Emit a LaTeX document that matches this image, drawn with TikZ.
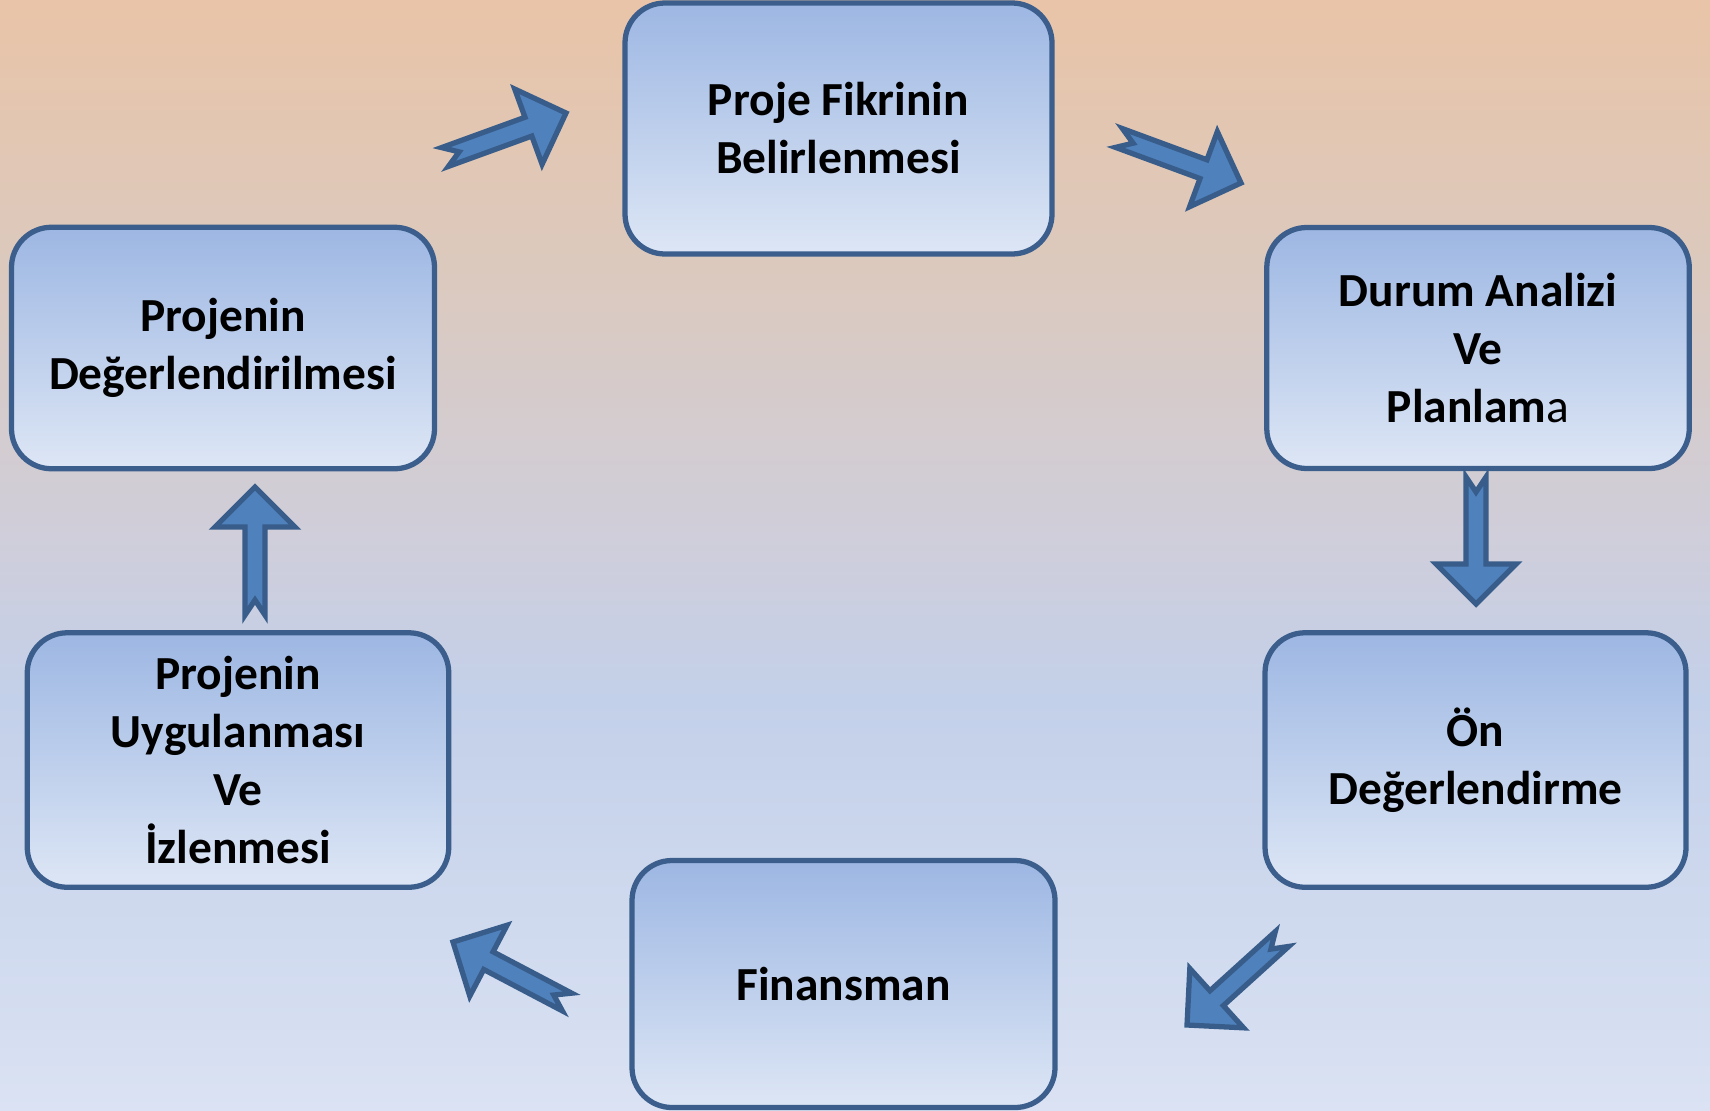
\documentclass[tikz,border=0pt]{standalone}
\usepackage{fontspec}
\setmainfont{Carlito}
\usetikzlibrary{calc}

\definecolor{bgtop}{HTML}{E9C4A8}
\definecolor{bgwarm}{HTML}{DCC9BD}
\definecolor{bgmid}{HTML}{CECEDC}
\definecolor{bgblue}{HTML}{C3D0E9}
\definecolor{bgbot}{HTML}{DAE2F3}
\definecolor{boxtop}{HTML}{9DB7E3}
\definecolor{boxbot}{HTML}{DDE6F5}
\definecolor{boxline}{HTML}{3B5E8C}
\definecolor{arrowfill}{HTML}{4F81BD}
\definecolor{arrowline}{HTML}{385D8A}

% background: peach at the top, blue further down
\pgfdeclareverticalshading{bgshade}{100bp}{color(0bp)=(bgbot); color(25bp)=(bgbot);
  color(43.5bp)=(bgblue); color(50bp)=(bgmid); color(63.3bp)=(bgwarm);
  color(75bp)=(bgtop); color(100bp)=(bgtop)}

\tikzset{
  stepbox/.style={draw=boxline, line width=1.5pt, rounded corners=4mm,
    top color=boxtop, bottom color=boxbot, align=center,
    font=\fontsize{13.5}{16.5}\selectfont\bfseries},
  blockarrow/.style={draw=arrowline, fill=arrowfill, line width=1.5pt, line join=miter,
    to path={
      ($(\tikztostart)!1mm!90:(\tikztotarget)$)
      -- ($(\tikztotarget)!4mm!(\tikztostart)!1mm!-90:(\tikztostart)$)
      -- ($(\tikztotarget)!4mm!(\tikztostart)!4mm!-90:(\tikztostart)$)
      -- (\tikztotarget)
      -- ($(\tikztotarget)!4mm!(\tikztostart)!4mm!90:(\tikztostart)$)
      -- ($(\tikztotarget)!4mm!(\tikztostart)!1mm!90:(\tikztostart)$)
      -- ($(\tikztostart)!1mm!-90:(\tikztotarget)$)
      -- ($(\tikztostart)!1.5mm!(\tikztotarget)$)
      -- cycle}}
}

\begin{document}
\begin{tikzpicture}
  \useasboundingbox (0,0) rectangle (17.1,11.1);
  \shade[shading=bgshade] (0,0) rectangle (17.1,11.1);

  % the six steps of the cycle
  \node[stepbox, minimum width=4.27cm, minimum height=2.51cm] (fikir) at (8.385,9.815) {Proje Fikrinin\\Belirlenmesi};
  \node[stepbox, minimum width=4.225cm, minimum height=2.41cm] (durum) at (14.78,7.62) {Durum Analizi\\Ve\\Planlam{\mdseries a}};
  \node[stepbox, minimum width=4.21cm, minimum height=2.545cm] (ondeg) at (14.755,3.50) {Ön\\Değerlendirme};
  \node[stepbox, minimum width=4.23cm, minimum height=2.47cm] (finans) at (8.435,1.26) {Finansman};
  \node[stepbox, minimum width=4.215cm, minimum height=2.545cm] (uygulama) at (2.38,3.50) {Projenin\\Uygulanması\\Ve\\İzlenmesi};
  \node[stepbox, minimum width=4.23cm, minimum height=2.415cm] (degerlendirme) at (2.23,7.62) {Projenin\\Değerlendirilmesi};

  % arrow ends
  \coordinate (a1s) at (4.45,9.53);   \coordinate (a1e) at (5.66,9.97);
  \coordinate (a2s) at (11.19,9.72);  \coordinate (a2e) at (12.41,9.27);
  \coordinate (a3s) at (14.76,6.33);  \coordinate (a3e) at (14.76,5.06);
  \coordinate (a4s) at (12.82,1.71);  \coordinate (a4e) at (11.87,0.85);
  \coordinate (a5s) at (5.67,1.08);   \coordinate (a5e) at (4.53,1.68);
  \coordinate (a6s) at (2.55,4.95);   \coordinate (a6e) at (2.55,6.23);

  \foreach \i in {1,...,6}
    {\draw[blockarrow] (a\i s) to (a\i e);}
\end{tikzpicture}
\end{document}
